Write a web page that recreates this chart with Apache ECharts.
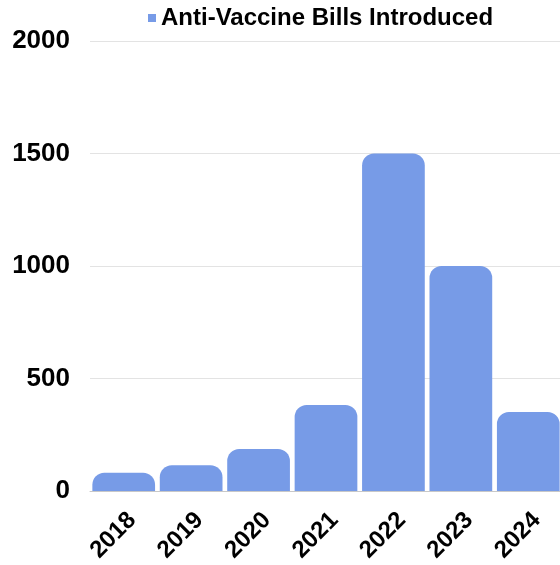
<!DOCTYPE html>
<html>
<head>
<meta charset="utf-8">
<script src="https://cdn.jsdelivr.net/npm/echarts@6/dist/echarts.min.js"></script>
<style>
html,body{margin:0;padding:0;background:#fff;}
#chart{width:560px;height:565px;}
</style>
</head>
<body>
<div id="chart"></div>
<script>
const categories = ['2018', '2019', '2020', '2021', '2022', '2023', '2024'];
const seriesName = 'Anti-Vaccine Bills Introduced';
const billsIntroduced = [81, 115, 187, 382, 1500, 1000, 351];
const yTicks = { min: 0, max: 2000, interval: 500 };

const FONT = '"Liberation Sans", Arial, sans-serif';
const chart = echarts.init(document.getElementById('chart'));
chart.setOption({
  animation: false,
  textStyle: { fontFamily: FONT },
  legend: {
    data: [seriesName],
    left: 148,
    top: 6,
    padding: 0,
    icon: 'rect',
    itemWidth: 8,
    itemHeight: 8,
    textStyle: { fontFamily: FONT, fontSize: 24, fontWeight: 'bold', color: '#000' }
  },
  grid: { left: 90, right: -2, top: 41, bottom: 74, containLabel: false, outerBoundsMode: 'none' },
  xAxis: {
    type: 'category',
    data: categories,
    axisTick: { show: false },
    axisLine: { lineStyle: { color: '#c8c8c8', width: 1 } },
    axisLabel: {
      rotate: 45,
      margin: 17,
      verticalAlign: 'top',
      fontFamily: FONT,
      fontSize: 24,
      fontWeight: 'bold',
      color: '#000'
    }
  },
  yAxis: {
    type: 'value',
    min: yTicks.min,
    max: yTicks.max,
    interval: yTicks.interval,
    axisLine: { show: false },
    axisTick: { show: false },
    splitLine: { lineStyle: { color: '#e3e3e3', width: 1 } },
    axisLabel: {
      margin: 20,
      fontFamily: FONT,
      fontSize: 26,
      fontWeight: 'bold',
      color: '#000',
      formatter: function (v) { return String(v); }
    }
  },
  series: [{
    name: seriesName,
    type: 'bar',
    data: billsIntroduced,
    barCategoryGap: '7%',
    itemStyle: { color: '#779be7', borderRadius: [12, 12, 0, 0] }
  }]
});
</script>
</body>
</html>
